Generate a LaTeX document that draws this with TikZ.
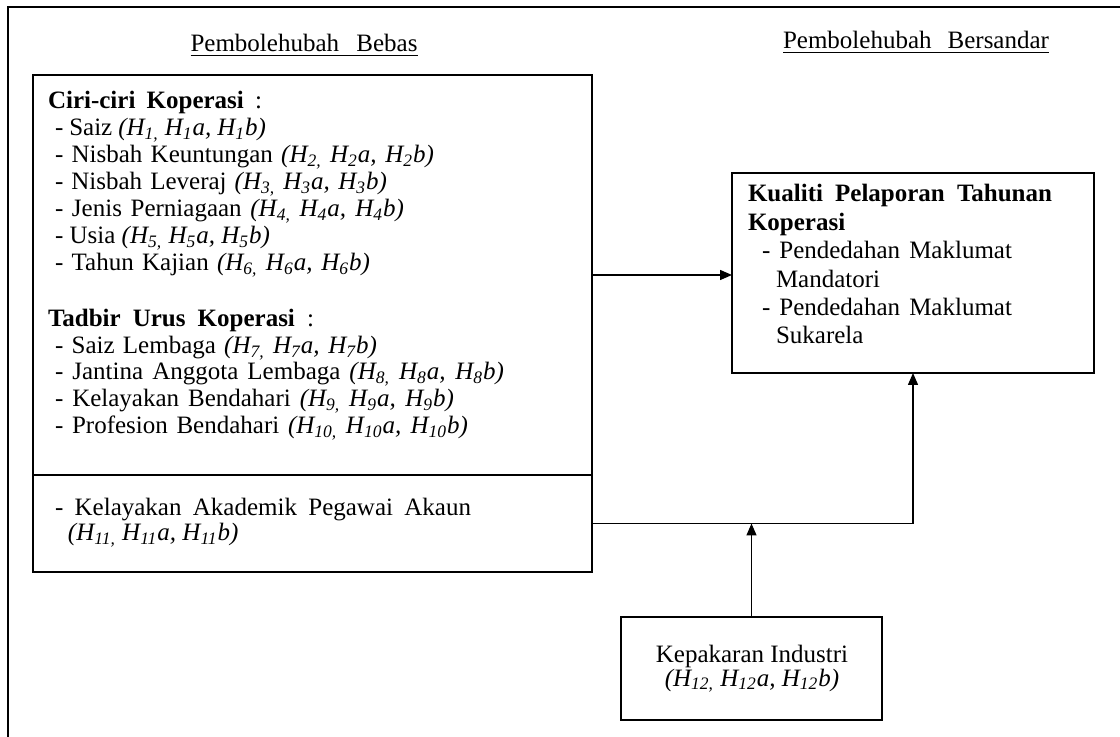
\documentclass[tikz,border=0pt]{standalone}
\usepackage{fontspec}
\setmainfont{Liberation Serif}
\usetikzlibrary{arrows.meta}
\newcommand{\hs}[1]{H\textsubscript{#1}}
\newcommand{\jl}[2]{\makebox[#1][s]{#2}}
\tikzset{
  box/.style={draw, line width=0.8pt, rectangle, inner sep=0pt, outer sep=0pt},
  frame/.style={line width=1pt},
  txt/.style={inner sep=0pt, outer sep=0pt, anchor=base west, font=\fontsize{12.5}{13}\selectfont},
  ctxt/.style={inner sep=0pt, outer sep=0pt, anchor=base, font=\fontsize{12.5}{13}\selectfont},
  arr/.style={line width=0.7pt, -{Triangle[length=6pt,width=5pt]}}
}
\begin{document}
\begin{tikzpicture}[x=0.5pt,y=-0.5pt]
\useasboundingbox (0,0) rectangle (1120,737);
% outer frame
\draw[frame] (8,737) -- (8,7) -- (1120,7);
% headers
\node[ctxt] (hbebas) at (304,52) {\underline{\jl{113.5pt}{Pembolehubah Bebas}}};
\node[ctxt] (hbers) at (916,49) {\underline{\jl{133pt}{Pembolehubah Bersandar}}};
% boxes
\node[box, anchor=north west, minimum width=279.5pt, minimum height=200pt] (upper) at (33,75) {};
\node[box, anchor=north west, minimum width=279.5pt, minimum height=48.5pt] (lower) at (33,475) {};
\node[box, anchor=north west, minimum width=181pt, minimum height=100pt] (right) at (732,173) {};
\node[box, anchor=north west, minimum width=130.5pt, minimum height=51.5pt] (kep) at (621,617) {};
% upper box text
\node[txt] (t1) at (48,109) {\jl{107pt}{\textbf{Ciri-ciri Koperasi} :}};
\node[txt] (t2) at (55,136) {\jl{105.5pt}{- Saiz \textit{(\hs{1,} \hs{1}a, \hs{1}b)}}};
\node[txt] (t3) at (55,163) {\jl{189.5pt}{- Nisbah Keuntungan \textit{(\hs{2,} \hs{2}a, \hs{2}b)}}};
\node[txt] (t4) at (55,190) {\jl{166pt}{- Nisbah Leveraj \textit{(\hs{3,} \hs{3}a, \hs{3}b)}}};
\node[txt] (t5) at (55,217) {\jl{174.5pt}{- Jenis Perniagaan \textit{(\hs{4,} \hs{4}a, \hs{4}b)}}};
\node[txt] (t6) at (55,244) {\jl{107.5pt}{- Usia \textit{(\hs{5,} \hs{5}a, \hs{5}b)}}};
\node[txt] (t7) at (55,271) {\jl{157.5pt}{- Tahun Kajian \textit{(\hs{6,} \hs{6}a, \hs{6}b)}}};
\node[txt] (t8) at (48,327) {\jl{133pt}{\textbf{Tadbir Urus Koperasi} :}};
\node[txt] (t9) at (55,354) {\jl{161pt}{- Saiz Lembaga \textit{(\hs{7,} \hs{7}a, \hs{7}b)}}};
\node[txt] (t10) at (55,380) {\jl{224.5pt}{- Jantina Anggota Lembaga \textit{(\hs{8,} \hs{8}a, \hs{8}b)}}};
\node[txt] (t11) at (55,407) {\jl{199.5pt}{- Kelayakan Bendahari \textit{(\hs{9,} \hs{9}a, \hs{9}b)}}};
\node[txt] (t12) at (55,434) {\jl{206.5pt}{- Profesion Bendahari \textit{(\hs{10,} \hs{10}a, \hs{10}b)}}};
% lower box text
\node[txt] (t13) at (55,516) {\jl{208pt}{- Kelayakan Akademik Pegawai Akaun}};
\node[txt] (t14) at (68,541) {\textit{(\hs{11,} \hs{11}a, \hs{11}b)}};
% right box text
\node[txt] (r1) at (748,202) {\jl{152pt}{\textbf{Kualiti Pelaporan Tahunan}}};
\node[txt] (r2) at (748,231) {\textbf{Koperasi}};
\node[txt] (r3) at (762,259) {\jl{125pt}{- Pendedahan Maklumat}};
\node[txt] (r4) at (776,288) {Mandatori};
\node[txt] (r5) at (762,316) {\jl{125pt}{- Pendedahan Maklumat}};
\node[txt] (r6) at (776,344) {Sukarela};
% kepakaran text
\node[ctxt] (k1) at (752,662) {Kepakaran Industri};
\node[ctxt] (k2) at (752,686) {\textit{(\hs{12,} \hs{12}a, \hs{12}b)}};
% connectors
\draw[arr] (upper.east) -- (upper.east -| right.west);
\draw[arr] (lower.east) -| (right.south);
\coordinate (join) at (kep.north |- lower.east);
\draw[arr] (kep.north) -- (join);
\end{tikzpicture}
\end{document}
